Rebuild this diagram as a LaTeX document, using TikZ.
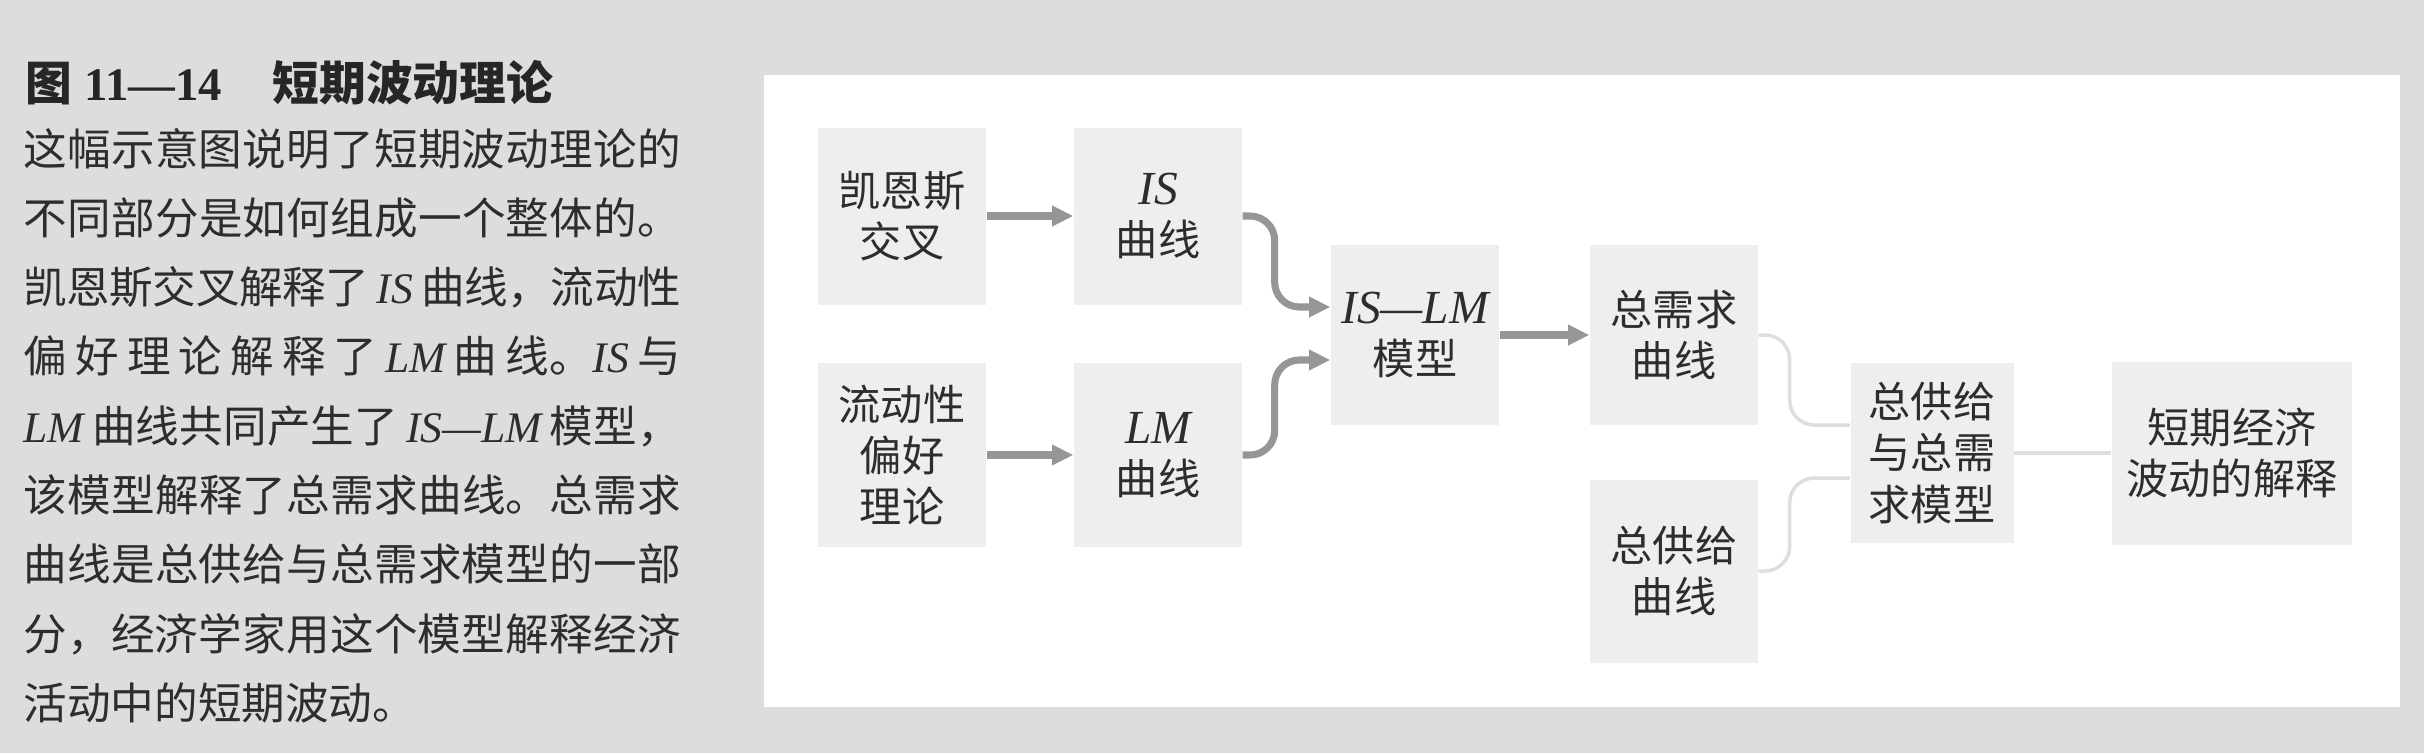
\documentclass[tikz,border=0pt]{standalone}
\usepackage{fontspec}
\newfontfamily\cjk{Noto Sans CJK SC}
\newfontfamily\tms{Liberation Serif}
\usetikzlibrary{arrows.meta, positioning}
\definecolor{bggray}{RGB}{221, 221, 219}
\definecolor{boxgray}{RGB}{238, 238, 238}
\definecolor{arrowgray}{RGB}{150, 150, 150}
\definecolor{faintgray}{RGB}{222, 222, 222}
\definecolor{inkgray}{RGB}{45, 45, 45}
\XeTeXlinebreaklocale "zh"
\XeTeXlinebreakskip=0pt plus 2pt minus 0.6pt
\newcommand\lm[1]{{\tms\itshape #1}}
\newcommand\cl[1]{\hspace{0.08cm}\lm{#1}\hspace{0.08cm}}
\newcommand\blm[1]{{\tms\itshape\fontsize{13.5}{14.6}\selectfont #1}}
\newcommand\tnum[1]{{\tms\bfseries #1}}
\newcommand\boxfont{\cjk\fontsize{12}{14.6}\selectfont}
\newcommand\capfont{\cjk\fontsize{12.4}{19.7}\selectfont}
\newcommand\titlefont{\cjk\bfseries\fontsize{13.3}{16}\selectfont}

\tikzset{
  blk/.style={fill=boxgray, minimum width=1.68cm, minimum height=1.8cm, inner sep=0pt,
    align=center, text=inkgray, font=\boxfont},
  thickarrow/.style={draw=arrowgray, line width=2pt, rounded corners=7pt,
    -{Triangle[length=6pt, width=5.5pt]}},
  faintline/.style={draw=faintgray, line width=1pt, rounded corners=7pt},
  captext/.style={anchor=base west, inner sep=0pt, text=inkgray, font=\capfont}
}

\begin{document}
\begin{tikzpicture}
  % Page and panel
  \fill[bggray] (0,0) rectangle (24.24,-7.53);
  \fill[white] (7.64,-0.75) rectangle (24.0,-7.07);

  % Caption
  \node[captext, text=black!85, font=\titlefont] (fignum) at (0.25,-1.0) {图\hspace{0.12cm}\tnum{11—14}};
  \node[captext, text=black!85, font=\titlefont] (figtitle) at (2.72,-1.0) {短期波动理论};
  \foreach \txt [count=\i] in {
    {这幅示意图说明了短期波动理论的},
    {不同部分是如何组成一个整体的。},
    {凯恩斯交叉解释了\cl{IS}曲线，流动性},
    {偏好理论解释了\cl{LM}曲线。\lm{IS}\hspace{0.08cm}与},
    {\lm{LM}\hspace{0.08cm}曲线共同产生了\cl{IS—LM}模型，},
    {该模型解释了总需求曲线。总需求},
    {曲线是总供给与总需求模型的一部},
    {分，经济学家用这个模型解释经济},
    {活动中的短期波动。\hfill\null}} {
    \node[captext] (cap\i) at (0.23, {-1.65-0.693*(\i-1)})
      {\parbox[b]{6.57cm}{\parfillskip=0pt \txt}};
  }

  % Boxes
  \node[blk, minimum height=1.77cm] (kc) at (9.02,-2.16) {凯恩斯\\交叉};
  \node[blk, minimum height=1.77cm] (is) at (11.58,-2.16) {\blm{IS}\\曲线};
  \node[blk, minimum height=1.84cm] (lp) at (9.02,-4.55) {流动性\\偏好\\理论};
  \node[blk, minimum height=1.84cm] (lm) at (11.58,-4.55) {\blm{LM}\\曲线};
  \node[blk] (islm) at (14.15,-3.35) {\blm{IS—LM}\\模型};
  \node[blk] (ad) at (16.74,-3.35) {总需求\\曲线};
  \node[blk, minimum height=1.83cm] (as) at (16.74,-5.71) {总供给\\曲线};
  \node[blk, minimum width=1.63cm] (asad) at (19.32,-4.53) {总供给\\与总需\\求模型};
  \node[blk, minimum width=2.4cm, minimum height=1.83cm] (expl) at (22.32,-4.53) {短期经济\\波动的解释};

  % Connectors
  \draw[thickarrow] (kc) -- (is);
  \draw[thickarrow] (lp) -- (lm);
  \draw[thickarrow] (is.east) -- ++(0.32,0) |- ([yshift=0.28cm]islm.west);
  \draw[thickarrow] (lm.east) -- ++(0.32,0) |- ([yshift=-0.25cm]islm.west);
  \draw[thickarrow] (islm) -- (ad);
  \draw[faintline] (ad.east) -- ++(0.31,0) |- ([yshift=0.28cm]asad.west);
  \draw[faintline] (as.east) -- ++(0.31,0) |- ([yshift=-0.25cm]asad.west);
  \draw[faintline] (asad) -- (expl);
\end{tikzpicture}
\end{document}
